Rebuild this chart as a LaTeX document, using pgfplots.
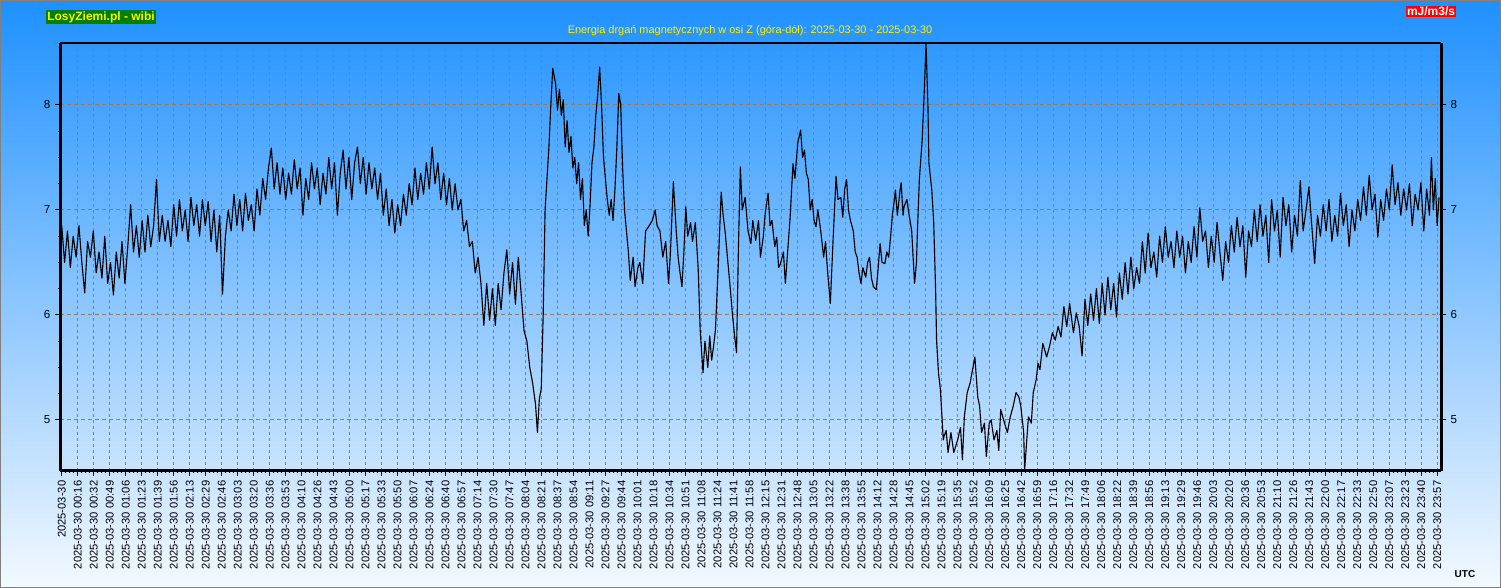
\documentclass[border=0pt]{standalone}
\usepackage{fontspec}
\setmainfont{Liberation Sans}
\usepackage{pgfplots}
\pgfplotsset{compat=1.18}
\definecolor{skytop}{RGB}{30,144,255}
\definecolor{skybot}{RGB}{243,249,255}
\definecolor{gridx}{RGB}{128,128,128}
\definecolor{gridy}{RGB}{150,122,96}
\definecolor{taggreen}{RGB}{0,128,0}

\begin{document}
\begin{tikzpicture}
\useasboundingbox (0,0) rectangle (1125.75pt,441pt);
\shade[top color=skytop, bottom color=skybot] (0,0) rectangle (1125.75pt,441pt);
\draw[gray, line width=0.75pt] (0.375pt,0.375pt) rectangle (1125.375pt,440.625pt);

% main axis: time in minutes since 00:00 UTC
\begin{axis}[
    at={(45pt,87.75pt)}, anchor=south west, scale only axis,
    width=1035.75pt, height=321pt,
    xmin=-1.8, xmax=1441, ymin=4.514, ymax=8.59,
    axis line style={draw=none},
    clip mode=individual,
    xtick={0,16.71,...,1440},
    xticklabels={2025-03-30, 2025-03-30 00:16, 2025-03-30 00:32, 2025-03-30 00:49, 2025-03-30 01:06, 2025-03-30 01:23, 2025-03-30 01:39, 2025-03-30 01:56, 2025-03-30 02:13, 2025-03-30 02:29, 2025-03-30 02:46, 2025-03-30 03:03, 2025-03-30 03:20, 2025-03-30 03:36, 2025-03-30 03:53, 2025-03-30 04:10, 2025-03-30 04:26, 2025-03-30 04:43, 2025-03-30 05:00, 2025-03-30 05:17, 2025-03-30 05:33, 2025-03-30 05:50, 2025-03-30 06:07, 2025-03-30 06:24, 2025-03-30 06:40, 2025-03-30 06:57, 2025-03-30 07:14, 2025-03-30 07:30, 2025-03-30 07:47, 2025-03-30 08:04, 2025-03-30 08:21, 2025-03-30 08:37, 2025-03-30 08:54, 2025-03-30 09:11, 2025-03-30 09:27, 2025-03-30 09:44, 2025-03-30 10:01, 2025-03-30 10:18, 2025-03-30 10:34, 2025-03-30 10:51, 2025-03-30 11:08, 2025-03-30 11:24, 2025-03-30 11:41, 2025-03-30 11:58, 2025-03-30 12:15, 2025-03-30 12:31, 2025-03-30 12:48, 2025-03-30 13:05, 2025-03-30 13:22, 2025-03-30 13:38, 2025-03-30 13:55, 2025-03-30 14:12, 2025-03-30 14:28, 2025-03-30 14:45, 2025-03-30 15:02, 2025-03-30 15:19, 2025-03-30 15:35, 2025-03-30 15:52, 2025-03-30 16:09, 2025-03-30 16:25, 2025-03-30 16:42, 2025-03-30 16:59, 2025-03-30 17:16, 2025-03-30 17:32, 2025-03-30 17:49, 2025-03-30 18:06, 2025-03-30 18:22, 2025-03-30 18:39, 2025-03-30 18:56, 2025-03-30 19:13, 2025-03-30 19:29, 2025-03-30 19:46, 2025-03-30 20:03, 2025-03-30 20:20, 2025-03-30 20:36, 2025-03-30 20:53, 2025-03-30 21:10, 2025-03-30 21:26, 2025-03-30 21:43, 2025-03-30 22:00, 2025-03-30 22:17, 2025-03-30 22:33, 2025-03-30 22:50, 2025-03-30 23:07, 2025-03-30 23:23, 2025-03-30 23:40, 2025-03-30 23:57},
    xticklabel style={rotate=90, anchor=east, font=\fontsize{8.4}{10}\selectfont},
    minor x tick num=3,
    xtick pos=left, ytick pos=left,
    ytick={5,6,7,8}, minor y tick num=3,
    yticklabel style={font=\fontsize{8.7}{10}\selectfont},
    tick align=outside,
    major tick length=3.75pt, minor tick length=1.5pt,
    tick style={black, line width=0.75pt},
    xmajorgrids, ymajorgrids,
    major x grid style={gridx, dash pattern=on 2.25pt off 2.25pt, line width=0.75pt},
    major y grid style={gridy, dash pattern=on 3pt off 2.25pt, line width=0.75pt},
    /pgf/number format/assume math mode=true,
]
\addplot[black, line width=0.85pt, line join=round] coordinates {
(0,6.85)(3,6.5)(6,6.8)(9,6.45)(12,6.75)(15,6.55)(18,6.85)(21,6.5)(24,6.21)(27,6.7)(30,6.55)(33,6.8)(36,6.4)(39,6.6)(42,6.35)(45,6.75)(48,6.3)(51,6.5)(54,6.19)(57,6.6)
(60,6.35)(63,6.7)(66,6.3)(69,6.65)(72,7.05)(75,6.6)(78,6.85)(81,6.55)(84,6.9)(87,6.6)(90,6.95)(93,6.65)(96,6.85)(99,7.29)(102,6.7)(105,6.95)(108,6.7)(111,6.9)(114,6.65)(117,7.05)
(120,6.75)(123,7.1)(126,6.8)(129,7.0)(132,6.7)(135,7.12)(138,6.85)(141,7.05)(144,6.75)(147,7.1)(150,6.85)(153,7.08)(156,6.7)(159,7.0)(162,6.6)(165,6.95)(168,6.2)(171,6.75)(174,7.0)(177,6.8)
(180,7.15)(183,6.85)(186,7.1)(189,6.8)(192,7.16)(195,6.9)(198,7.05)(201,6.8)(204,7.2)(207,6.95)(210,7.3)(213,7.1)(216,7.4)(219,7.59)(222,7.2)(225,7.45)(228,7.15)(231,7.4)(234,7.1)(237,7.35)
(240,7.15)(243,7.48)(246,7.2)(249,7.4)(252,6.95)(255,7.3)(258,7.1)(261,7.45)(264,7.2)(267,7.4)(270,7.05)(273,7.35)(276,7.15)(279,7.5)(282,7.2)(285,7.45)(288,6.95)(291,7.35)(294,7.57)(297,7.2)
(300,7.5)(303,7.1)(306,7.45)(309,7.6)(312,7.25)(315,7.5)(318,7.15)(321,7.45)(324,7.2)(327,7.4)(330,7.1)(333,7.35)(336,6.95)(339,7.2)(342,6.85)(345,7.1)(348,6.78)(351,7.05)(354,6.85)(357,7.15)
(360,6.95)(363,7.25)(366,7.05)(369,7.4)(372,7.1)(375,7.35)(378,7.15)(381,7.45)(384,7.2)(387,7.6)(390,7.25)(393,7.45)(396,7.1)(399,7.35)(402,7.05)(405,7.3)(408,7.0)(411,7.25)(414,7.0)(417,7.1)
(420,6.8)(423,6.9)(426,6.65)(429,6.7)(432,6.4)(435,6.55)(438,6.3)(441,5.9)(444,6.3)(447,5.95)(450,6.25)(453,5.9)(456,6.3)(459,6.05)(462,6.4)(465,6.62)(468,6.2)(471,6.5)(474,6.1)(477,6.55)
(480,6.2)(483,5.85)(486,5.75)(489,5.5)(492,5.35)(495,5.15)(497,4.88)(499,5.2)(501,5.3)(503,6.0)(505,7.0)(507,7.3)(509,7.6)(511,8.0)(513,8.35)(516,8.2)(518,7.95)(520,8.15)(522,7.9)(524,8.05)
(526,7.6)(528,7.85)(530,7.55)(532,7.7)(534,7.4)(536,7.5)(538,7.25)(540,7.45)(542,7.1)(544,7.3)(546,6.85)(548,7.0)(550,6.75)(552,7.05)(554,7.45)(556,7.6)(558,7.9)(560,8.1)(562,8.36)(564,8.0)
(566,7.5)(568,7.3)(570,7.1)(572,6.95)(574,7.1)(576,6.9)(578,7.2)(580,7.6)(582,8.11)(584,8.0)(586,7.4)(588,7.0)(590,6.8)(592,6.6)(594,6.33)(597,6.55)(599,6.27)(602,6.45)(604,6.5)(607,6.3)
(610,6.8)(613,6.84)(617,6.9)(620,7.0)(622,6.85)(625,6.8)(628,6.55)(631,6.7)(634,6.3)(636,6.6)(639,7.27)(642,6.8)(644,6.55)(646,6.4)(648,6.27)(650,6.6)(652,7.03)(654,6.75)(657,6.88)(659,6.7)
(662,6.88)(665,6.43)(667,5.86)(670,5.45)(672,5.75)(675,5.5)(677,5.8)(679,5.57)(681,5.7)(683,5.86)(686,6.49)(689,7.17)(691,6.95)(693,6.8)(695,6.6)(698,6.3)(701,5.98)(703,5.8)(705,5.64)(707,6.65)
(709,7.41)(711,7.0)(714,7.12)(717,6.8)(720,6.68)(722,6.9)(725,6.71)(728,6.9)(730,6.55)(733,6.75)(735,6.97)(738,7.16)(740,6.85)(742,6.9)(745,6.65)(747,6.74)(749,6.45)(751,6.49)(754,6.6)(756,6.3)
(758,6.55)(761,6.93)(764,7.44)(766,7.3)(769,7.64)(772,7.76)(774,7.5)(776,7.57)(778,7.35)(780,7.29)(782,7.0)(784,7.1)(786,6.9)(788,6.84)(790,7.0)(793,6.8)(796,6.55)(798,6.7)(800,6.43)(803,6.11)
(806,6.74)(809,7.32)(811,7.1)(814,7.12)(816,6.93)(818,7.2)(820,7.29)(822,7.0)(824,6.9)(827,6.8)(829,6.6)(831,6.55)(833,6.4)(835,6.3)(837,6.45)(840,6.36)(842,6.5)(844,6.55)(846,6.35)(848,6.27)
(851,6.24)(853,6.45)(855,6.68)(857,6.5)(860,6.49)(862,6.6)(864,6.55)(866,6.75)(868,6.97)(870,7.1)(871,7.19)(873,6.95)(874,7.03)(876,7.2)(877,7.26)(879,6.95)(880,7.03)(883,7.1)(885,6.97)(888,6.8)
(891,6.3)(893,6.5)(894,6.8)(896,7.29)(899,7.67)(901,8.1)(903,8.58)(905,7.98)(906,7.45)(909,7.19)(911,6.88)(913,6.24)(914,5.76)(916,5.45)(918,5.29)(919,5.13)(921,4.81)(922,4.85)(924,4.9)(926,4.69)
(929,4.88)(932,4.69)(934,4.75)(936,4.81)(939,4.93)(941,4.62)(943,5.03)(946,5.26)(949,5.35)(952,5.5)(954,5.6)(957,5.22)(959,5.13)(961,4.88)(964,4.97)(966,4.65)(969,4.97)(971,5.0)(974,4.81)(977,4.9)
(979,4.71)(981,5.1)(985,4.97)(988,4.88)(991,5.03)(994,5.13)(997,5.26)(1000,5.22)(1002,5.13)(1005,4.88)(1006,4.52)(1008,4.78)(1010,5.03)(1013,4.97)(1015,5.26)(1018,5.38)(1020,5.54)(1022,5.48)(1025,5.73)(1029,5.6)
(1032,5.7)(1035,5.83)(1038,5.76)(1041,5.89)(1044,5.79)(1047,6.08)(1050,5.89)(1053,6.11)(1057,5.83)(1060,6.02)(1063,5.89)(1066,5.61)(1069,6.15)(1072,5.9)(1075,6.2)(1078,5.95)(1081,6.25)(1084,5.92)(1087,6.3)(1090,6.0)
(1093,6.36)(1096,6.05)(1099,6.3)(1102,5.98)(1105,6.4)(1108,6.15)(1111,6.5)(1114,6.2)(1117,6.55)(1120,6.25)(1123,6.45)(1126,6.3)(1129,6.7)(1132,6.4)(1135,6.78)(1138,6.45)(1141,6.6)(1144,6.36)(1147,6.75)(1150,6.5)
(1153,6.84)(1156,6.55)(1159,6.7)(1162,6.45)(1165,6.8)(1168,6.55)(1171,6.75)(1174,6.4)(1177,6.7)(1180,6.5)(1183,6.84)(1186,6.55)(1189,7.02)(1192,6.7)(1195,6.8)(1198,6.45)(1201,6.75)(1204,6.5)(1207,6.88)(1210,6.6)
(1213,6.33)(1216,6.7)(1219,6.5)(1222,6.85)(1225,6.6)(1228,6.93)(1231,6.65)(1234,6.85)(1237,6.36)(1240,6.8)(1243,6.65)(1246,7.0)(1249,6.7)(1252,7.05)(1255,6.75)(1258,6.95)(1261,6.5)(1264,7.1)(1267,6.8)(1270,7.0)
(1273,6.55)(1276,7.12)(1279,6.85)(1282,7.05)(1285,6.6)(1288,6.95)(1291,6.75)(1294,7.28)(1297,6.8)(1300,7.0)(1303,7.22)(1306,6.85)(1309,6.49)(1312,6.95)(1315,6.75)(1318,7.05)(1321,6.8)(1324,7.1)(1327,6.7)(1330,6.95)
(1333,6.75)(1336,7.16)(1339,6.85)(1342,7.05)(1345,6.65)(1348,7.0)(1351,6.8)(1354,7.1)(1357,6.9)(1360,7.22)(1363,6.95)(1366,7.33)(1369,7.0)(1372,7.15)(1375,6.74)(1378,7.1)(1381,6.9)(1384,7.2)(1387,7.0)(1390,7.43)
(1393,7.05)(1396,7.26)(1399,6.95)(1402,7.2)(1405,7.0)(1408,7.25)(1411,6.85)(1414,7.15)(1417,7.0)(1420,7.26)(1423,6.8)(1426,7.2)(1429,6.95)(1431,7.5)(1433,7.0)(1435,7.3)(1437,6.85)(1439,7.12)
};
\end{axis}

% right-hand tick labels and the frame
\begin{axis}[
    at={(45pt,87.75pt)}, anchor=south west, scale only axis,
    width=1035.75pt, height=321pt,
    xmin=-1.8, xmax=1441, ymin=4.514, ymax=8.59,
    hide x axis,
    axis line style={draw=none},
    clip=false,
    ytick={5,6,7,8}, minor y tick num=3,
    ytick pos=right, yticklabel pos=right,
    yticklabel style={font=\fontsize{8.7}{10}\selectfont},
    tick align=outside,
    major tick length=3.75pt, minor tick length=1.5pt,
    tick style={black, line width=0.75pt},
    /pgf/number format/assume math mode=true,
]
\draw[black, line width=2.25pt] (rel axis cs:0,0) -- (rel axis cs:0,1);
\draw[black, line width=2.25pt] (rel axis cs:1,0) -- (rel axis cs:1,1);
\draw[black, line width=2.25pt] (rel axis cs:0,0) -- (rel axis cs:1,0);
\draw[black, line width=1.2pt] (rel axis cs:0,1) -- (rel axis cs:1,1);
\end{axis}

\node[fill=taggreen, text=yellow, inner sep=1pt, font=\bfseries\fontsize{9}{10}\selectfont] at (75.75pt,428.25pt) {LosyZiemi.pl - wibi};
\node[fill=red, text=white, inner sep=1pt, font=\bfseries\fontsize{9}{10}\selectfont] at (1073.25pt,432.4pt) {mJ/m3/s};
\node[text=yellow, font=\fontsize{8.2}{10}\selectfont] at (562.5pt,417.75pt) {Energia drgań magnetycznych w osi Z (góra-dół): 2025-03-30 - 2025-03-30};
\node[font=\bfseries\fontsize{7.5}{9}\selectfont] at (1098.75pt,10.5pt) {UTC};
\end{tikzpicture}
\end{document}
